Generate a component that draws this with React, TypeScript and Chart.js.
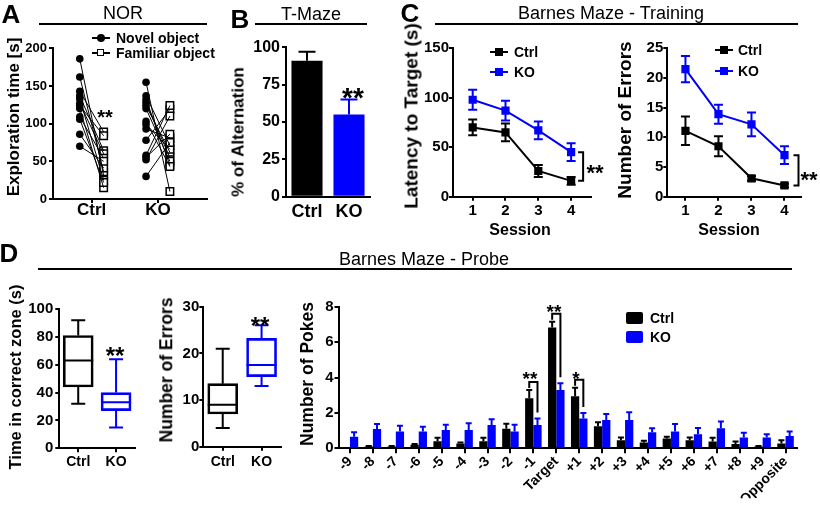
import React, { useEffect, useRef } from 'react';
import { Chart, registerables } from 'chart.js';
Chart.register(...registerables);

const FONT = "'Liberation Sans', Arial, Helvetica, sans-serif";
const BLUE = '#0000ff';
const W = 820;
const H = 505;
Chart.defaults.font.family = FONT;
Chart.defaults.color = '#000';

// ---------- Panel A: NOR ----------
const norGroups = ['Ctrl', 'KO'];
const ctrlNovel = [186, 162, 143, 137, 133, 127, 124, 120, 109, 106, 86, 70];
const ctrlFamiliar = [31, 36, 89, 64, 25, 60, 84, 15, 54, 22, 41, 50];
const koNovel = [155, 137, 132, 128, 124, 120, 103, 99, 93, 78, 58, 55, 52, 30];
const koFamiliar = [10, 71, 45, 55, 62, 50, 43, 66, 81, 119, 124, 86, 110, 75];

// ---------- Panel B: T-Maze ----------
const tmazeGroups = ['Ctrl', 'KO'];
const tmazeMean = [91, 55];
const tmazeSem = [6, 10];

// ---------- Panel C: Barnes maze training ----------
const sessions = [1, 2, 3, 4];
const latencyCtrl = [70, 65, 26, 16];
const latencyCtrlSem = [8, 9, 6, 4];
const latencyKo = [98, 87, 67, 45];
const latencyKoSem = [10, 10, 9, 9];
const errorsCtrl = [11.1, 8.5, 3.1, 1.9];
const errorsCtrlSem = [2.4, 1.7, 0.4, 0.3];
const errorsKo = [21.5, 13.9, 12.2, 7.0];
const errorsKoSem = [2.2, 1.6, 2.0, 1.5];

// ---------- Panel D: Barnes maze probe ----------
const probeGroups = ['Ctrl', 'KO'];
// [min, q1, median, q3, max]
const zoneCtrl = [32, 44, 63, 81, 92];
const zoneKo = [15, 27, 33, 40, 64];
const probeErrCtrl = [4, 7, 9, 13.5, 21];
const probeErrKo = [13, 15, 17.5, 23.2, 26];
const holes = ['-9', '-8', '-7', '-6', '-5', '-4', '-3', '-2', '-1', 'Target', '+1', '+2', '+3', '+4', '+5', '+6', '+7', '+8', '+9', 'Opposite'];
const pokesCtrl = [0, 0.1, 0.1, 0.2, 0.4, 0.27, 0.4, 1.1, 2.83, 6.83, 2.94, 1.24, 0.46, 0.33, 0.56, 0.46, 0.39, 0.24, 0.1, 0.27];
const pokesCtrlSem = [0, 0.03, 0.03, 0.05, 0.2, 0.06, 0.2, 0.28, 0.47, 0.32, 0.48, 0.23, 0.15, 0.09, 0.09, 0.15, 0.21, 0.15, 0.03, 0.19];
const pokesKo = [0.65, 1.09, 0.95, 0.95, 1.03, 1.03, 1.32, 0.95, 1.32, 3.3, 1.69, 1.6, 1.6, 0.9, 0.95, 0.8, 1.13, 0.61, 0.61, 0.69];
const pokesKoSem = [0.25, 0.28, 0.33, 0.27, 0.3, 0.38, 0.32, 0.38, 0.37, 0.38, 0.31, 0.34, 0.43, 0.23, 0.42, 0.35, 0.39, 0.27, 0.19, 0.26];
const sigHoles = ['-1', 'Target', '+1'];

// ---------- helpers ----------
type Area = { l: number; t: number; r: number; b: number };
const PAIR_OFFSET = 0.18;

const bf = (size: number) => ({ family: FONT, size, weight: 'bold' as const, lineHeight: 1 });

function baseOptions(area: Area, yW: number, xH: number) {
  return {
    responsive: false,
    animation: false as const,
    devicePixelRatio: 1,
    events: [] as any[],
    layout: { padding: { left: area.l - yW, top: area.t, right: W - area.r, bottom: H - area.b - xH } },
    plugins: { legend: { display: false }, tooltip: { enabled: false } },
  };
}

function yAxis(min: number, max: number, step: number, size: number, yW: number, pad: number) {
  return {
    min,
    max,
    ticks: { stepSize: step, font: bf(size), color: '#000', padding: pad },
    grid: { display: true, drawOnChartArea: false, drawTicks: true, tickLength: 4, color: '#000', lineWidth: 2 },
    border: { display: true, color: '#000', width: 2 },
    afterFit: (s: any) => { s.width = yW; },
  };
}

function xGrid(tick: boolean) {
  return tick
    ? { display: true, drawOnChartArea: false, drawTicks: true, tickLength: 4, color: '#000', lineWidth: 2, offset: false }
    : { display: false, drawTicks: false };
}

const errorBarPlugin = {
  id: 'errorBars',
  afterDatasetsDraw(chart: any) {
    const ctx = chart.ctx;
    chart.data.datasets.forEach((ds: any, i: number) => {
      if (!ds.errors) return;
      const meta = chart.getDatasetMeta(i);
      const ys = chart.scales[meta.yAxisID];
      ctx.save();
      ctx.lineWidth = 2;
      meta.data.forEach((el: any, j: number) => {
        const d = ds.data[j];
        const v = typeof d === 'number' ? d : d.y;
        const e = ds.errors[j];
        if (!e) return;
        ctx.strokeStyle = Array.isArray(ds.errColor) ? ds.errColor[j] : ds.errColor;
        const yTop = ys.getPixelForValue(v + e);
        const yBot = ds.errDir === 'both' ? ys.getPixelForValue(v - e) : ys.getPixelForValue(v);
        const hw = ds.capWidth / 2;
        ctx.beginPath();
        ctx.moveTo(el.x, yBot);
        ctx.lineTo(el.x, yTop);
        ctx.moveTo(el.x - hw, yTop);
        ctx.lineTo(el.x + hw, yTop);
        if (ds.errDir === 'both') {
          ctx.moveTo(el.x - hw, yBot);
          ctx.lineTo(el.x + hw, yBot);
        }
        ctx.stroke();
      });
      ctx.restore();
    });
  },
};

// ---------- configs ----------
function norConfig() {
  const area = { l: 53, t: 48.3, r: 207, b: 199 };
  const yW = 45, xH = 30;
  const groups = [[ctrlNovel, ctrlFamiliar], [koNovel, koFamiliar]];
  const datasets: any[] = [];
  groups.forEach(([nov, fam], g) => nov.forEach((v, i) => datasets.push({
    data: [{ x: g + 1 - PAIR_OFFSET, y: v }, { x: g + 1 + PAIR_OFFSET, y: fam[i] }],
    showLine: true, borderColor: '#000', borderWidth: 1, pointRadius: 0,
  })));
  datasets.push({
    data: groups.flatMap(([nov], g) => nov.map((v) => ({ x: g + 1 - PAIR_OFFSET, y: v }))),
    pointStyle: 'circle', pointRadius: 3.8, pointBackgroundColor: '#000', pointBorderColor: '#000', pointBorderWidth: 0,
  });
  datasets.push({
    data: groups.flatMap(([, fam], g) => fam.map((v) => ({ x: g + 1 + PAIR_OFFSET, y: v }))),
    pointStyle: 'rect', pointRadius: 5.3, pointBackgroundColor: '#fff', pointBorderColor: '#000', pointBorderWidth: 1.5,
  });
  return {
    type: 'scatter',
    data: { datasets },
    options: {
      ...baseOptions(area, yW, xH),
      scales: {
        x: {
          type: 'linear', min: 0.416, max: 2.74,
          afterBuildTicks: (s: any) => { s.ticks = norGroups.map((_, i) => ({ value: i + 1 })); },
          ticks: { callback: (_v: any, i: number) => norGroups[i], font: bf(17), color: '#000', padding: -1 },
          grid: xGrid(true),
          border: { display: true, color: '#000', width: 2 },
          afterFit: (s: any) => { s.height = xH; },
        },
        y: yAxis(0, 200, 50, 13, yW, 2),
      },
    },
  };
}

function tmazeConfig() {
  const area = { l: 286, t: 47.3, r: 370, b: 196.7 };
  const yW = 45, xH = 30;
  return {
    type: 'bar',
    data: {
      labels: tmazeGroups,
      datasets: [{
        data: tmazeMean, backgroundColor: ['#000', BLUE], barPercentage: 0.74, categoryPercentage: 1,
        errors: tmazeSem, errColor: ['#000', BLUE], errDir: 'up', capWidth: 17,
      }],
    },
    options: {
      ...baseOptions(area, yW, xH),
      scales: {
        x: {
          ticks: { font: bf(18), color: '#000', padding: 6 },
          grid: xGrid(false),
          border: { display: true, color: '#000', width: 2 },
          afterFit: (s: any) => { s.height = xH; },
        },
        y: yAxis(0, 100, 25, 16, yW, 2),
      },
    },
    plugins: [errorBarPlugin],
  };
}

function trainingConfig(area: Area, ctrl: number[], ctrlSem: number[], ko: number[], koSem: number[],
  yMax: number, yStep: number, xMin: number, xMax: number, bracketDx: number) {
  const yW = 45, xH = 40;
  const mk = (vals: number[], sem: number[], color: string) => ({
    data: sessions.map((s, i) => ({ x: s, y: vals[i] })),
    errors: sem, errColor: color, errDir: 'both', capWidth: 9,
    showLine: true, borderColor: color, borderWidth: 2,
    pointStyle: 'rect', pointRadius: 5.8, pointBackgroundColor: color, pointBorderColor: color, pointBorderWidth: 0,
  });
  const bracket = {
    id: 'bracket',
    afterDatasetsDraw(chart: any) {
      const ctx = chart.ctx;
      const last = sessions.length - 1;
      const x = chart.scales.x.getPixelForValue(sessions[last]) + bracketDx;
      const y1 = chart.scales.y.getPixelForValue(ko[last]);
      const y2 = chart.scales.y.getPixelForValue(ctrl[last]);
      ctx.save();
      ctx.strokeStyle = '#000';
      ctx.lineWidth = 2;
      ctx.beginPath();
      ctx.moveTo(x - 5, y1);
      ctx.lineTo(x, y1);
      ctx.lineTo(x, y2);
      ctx.lineTo(x - 5, y2);
      ctx.stroke();
      ctx.restore();
    },
  };
  return {
    type: 'scatter',
    data: { datasets: [mk(ctrl, ctrlSem, '#000'), mk(ko, koSem, BLUE)] },
    options: {
      ...baseOptions(area, yW, xH),
      scales: {
        x: {
          type: 'linear', min: xMin, max: xMax,
          afterBuildTicks: (s: any) => { s.ticks = sessions.map((v) => ({ value: v })); },
          ticks: { font: bf(15), color: '#000', padding: 3 },
          grid: xGrid(true),
          border: { display: true, color: '#000', width: 2 },
          afterFit: (s: any) => { s.height = xH; },
        },
        y: yAxis(0, yMax, yStep, 15, yW, 0),
      },
    },
    plugins: [errorBarPlugin, bracket],
  };
}

function boxConfig(area: Area, stats: number[][], yMax: number, yStep: number, pad: number, xPad: number) {
  const yW = 40, xH = 30;
  const colors = ['#000', BLUE];
  const boxPlugin = {
    id: 'boxWhiskers',
    afterDatasetsDraw(chart: any) {
      const ctx = chart.ctx;
      const ys = chart.scales.y;
      const meta = chart.getDatasetMeta(0);
      ctx.save();
      ctx.lineWidth = 2;
      meta.data.forEach((el: any, i: number) => {
        const [mn, q1, md, q3, mx] = stats[i];
        const x = el.x;
        const hw = el.width / 2;
        ctx.strokeStyle = colors[i];
        ctx.beginPath();
        ctx.moveTo(x - hw, ys.getPixelForValue(md));
        ctx.lineTo(x + hw, ys.getPixelForValue(md));
        ctx.moveTo(x, ys.getPixelForValue(q3));
        ctx.lineTo(x, ys.getPixelForValue(mx));
        ctx.moveTo(x - 7, ys.getPixelForValue(mx));
        ctx.lineTo(x + 7, ys.getPixelForValue(mx));
        ctx.moveTo(x, ys.getPixelForValue(q1));
        ctx.lineTo(x, ys.getPixelForValue(mn));
        ctx.moveTo(x - 7, ys.getPixelForValue(mn));
        ctx.lineTo(x + 7, ys.getPixelForValue(mn));
        ctx.stroke();
      });
      ctx.restore();
    },
  };
  return {
    type: 'bar',
    data: {
      labels: probeGroups,
      datasets: [{
        data: stats.map((s) => [s[1], s[3]]),
        backgroundColor: 'rgba(0,0,0,0)', borderColor: colors, borderWidth: 2, borderSkipped: false, barThickness: 30,
      }],
    },
    options: {
      ...baseOptions(area, yW, xH),
      scales: {
        x: {
          ticks: { font: bf(14), color: '#000', padding: xPad },
          grid: xGrid(true),
          border: { display: true, color: '#000', width: 2 },
          afterFit: (s: any) => { s.height = xH; },
        },
        y: yAxis(0, yMax, yStep, 15, yW, pad),
      },
    },
    plugins: [boxPlugin],
  };
}

function pokesConfig() {
  const area = { l: 338.5, t: 306.7, r: 797, b: 448.3 };
  const yW = 30, xH = 50;
  const bracket = {
    id: 'sigBrackets',
    afterDatasetsDraw(chart: any) {
      const ctx = chart.ctx;
      const ys = chart.scales.y;
      const m0 = chart.getDatasetMeta(0);
      const m1 = chart.getDatasetMeta(1);
      ctx.save();
      ctx.strokeStyle = '#000';
      ctx.lineWidth = 2;
      sigHoles.forEach((h) => {
        const i = holes.indexOf(h);
        const yC = ys.getPixelForValue(pokesCtrl[i] + pokesCtrlSem[i]);
        const yK = ys.getPixelForValue(pokesKo[i] + pokesKoSem[i]);
        const top = yC - 8;
        ctx.beginPath();
        ctx.moveTo(m0.data[i].x, yC - 2);
        ctx.lineTo(m0.data[i].x, top);
        ctx.lineTo(m1.data[i].x, top);
        ctx.lineTo(m1.data[i].x, yK - 6);
        ctx.stroke();
      });
      ctx.restore();
    },
  };
  return {
    type: 'bar',
    data: {
      labels: holes,
      datasets: [
        { data: pokesCtrl, backgroundColor: '#000', errors: pokesCtrlSem, errColor: '#000', errDir: 'up', capWidth: 6, categoryPercentage: 0.72, barPercentage: 1 },
        { data: pokesKo, backgroundColor: BLUE, errors: pokesKoSem, errColor: BLUE, errDir: 'up', capWidth: 6, categoryPercentage: 0.72, barPercentage: 1 },
      ],
    },
    options: {
      ...baseOptions(area, yW, xH),
      scales: {
        x: {
          ticks: { font: bf(14), color: '#000', padding: 1, autoSkip: false, minRotation: 45, maxRotation: 45 },
          grid: { ...xGrid(true), tickLength: 5 },
          border: { display: true, color: '#000', width: 2 },
          afterFit: (s: any) => { s.height = xH; },
        },
        y: yAxis(0, 8, 2, 15, yW, 1),
      },
    },
    plugins: [errorBarPlugin, bracket],
  };
}

// ---------- React ----------
function ChartCanvas({ make }: { make: () => any }) {
  const ref = useRef<HTMLCanvasElement>(null);
  useEffect(() => {
    const chart = new Chart(ref.current as HTMLCanvasElement, make());
    return () => chart.destroy();
  }, []);
  return <canvas ref={ref} width={W} height={H} style={{ position: 'absolute', left: 0, top: 0, width: W, height: H }} />;
}

function Txt({ x, y, s, bold = true, rot = false, align = 'center', color = '#000', children }:
  { x: number; y: number; s: number; bold?: boolean; rot?: boolean; align?: string; color?: string; children: any }) {
  const transform = align === 'center'
    ? `translate(-50%,-50%)${rot ? ' rotate(-90deg)' : ''}`
    : align === 'left' ? 'translate(0,-50%)' : 'translate(-100%,-50%)';
  return (
    <div style={{
      position: 'absolute', left: x, top: y, fontSize: s, fontWeight: bold ? 'bold' : 'normal',
      lineHeight: `${s}px`, whiteSpace: 'nowrap', transform, color, fontFamily: FONT,
    }}>{children}</div>
  );
}

function Stars({ x, y, s, text }: { x: number; y: number; s: number; text: string }) {
  return <Txt x={x} y={y + 0.23 * s} s={s}>{text}</Txt>;
}

function HLine({ x1, x2, y }: { x1: number; x2: number; y: number }) {
  return <div style={{ position: 'absolute', left: x1, top: y - 1, width: x2 - x1, height: 2, background: '#000' }} />;
}

function LegendLine({ x1, x2, y, color, shape }: { x1: number; x2: number; y: number; color: string; shape: string }) {
  const cx = (x1 + x2) / 2;
  return (
    <>
      <div style={{ position: 'absolute', left: x1, top: y - 1, width: x2 - x1, height: 2, background: color }} />
      {shape === 'circle' && <div style={{ position: 'absolute', left: cx - 4, top: y - 4, width: 8, height: 8, borderRadius: '50%', background: color }} />}
      {shape === 'open' && <div style={{ position: 'absolute', left: cx - 4, top: y - 4, width: 5, height: 5, border: `1.5px solid ${color}`, background: '#fff' }} />}
      {shape === 'square' && <div style={{ position: 'absolute', left: cx - 4, top: y - 4, width: 8, height: 8, background: color }} />}
    </>
  );
}

export default function App() {
  return (
    <div style={{ position: 'fixed', left: 0, top: 0, width: W, height: H, background: '#fff', overflow: 'hidden', fontFamily: FONT }}>
      <ChartCanvas make={norConfig} />
      <ChartCanvas make={tmazeConfig} />
      <ChartCanvas make={() => trainingConfig({ l: 453, t: 48.3, r: 590.8, b: 196.7 }, latencyCtrl, latencyCtrlSem, latencyKo, latencyKoSem, 150, 50, 0.4, 4.6, 12)} />
      <ChartCanvas make={() => trainingConfig({ l: 667.3, t: 48.3, r: 801, b: 196.7 }, errorsCtrl, errorsCtrlSem, errorsKo, errorsKoSem, 25, 5, 0.45, 4.5, 14)} />
      <ChartCanvas make={() => boxConfig({ l: 59.3, t: 309, r: 135, b: 448.3 }, [zoneCtrl, zoneKo], 100, 20, 2, 2.5)} />
      <ChartCanvas make={() => boxConfig({ l: 203.3, t: 306.7, r: 281, b: 446.7 }, [probeErrCtrl, probeErrKo], 30, 10, 0, 4)} />
      <ChartCanvas make={pokesConfig} />

      {/* panel letters */}
      <Txt x={11} y={14} s={26}>A</Txt>
      <Txt x={240} y={18.5} s={26}>B</Txt>
      <Txt x={410} y={13} s={26}>C</Txt>
      <Txt x={9} y={253} s={26}>D</Txt>

      {/* titles */}
      <Txt x={123} y={13} s={18} bold={false}>NOR</Txt>
      <HLine x1={39} x2={207} y={24} />
      <Txt x={311} y={14} s={18} bold={false}>T-Maze</Txt>
      <HLine x1={255} x2={367} y={24} />
      <Txt x={611} y={13} s={18} bold={false}>Barnes Maze - Training</Txt>
      <HLine x1={435} x2={798} y={24} />
      <Txt x={424} y={258.5} s={18} bold={false}>Barnes Maze - Probe</Txt>
      <HLine x1={38} x2={792} y={269} />

      {/* axis titles */}
      <Txt x={13} y={117} s={17} rot>Exploration time [s]</Txt>
      <Txt x={238} y={132} s={17} rot>% of Alternation</Txt>
      <Txt x={411} y={116} s={19} rot>Latency to Target (s)</Txt>
      <Txt x={624} y={120} s={19} rot>Number of Errors</Txt>
      <Txt x={520} y={230} s={16}>Session</Txt>
      <Txt x={729} y={230} s={16}>Session</Txt>
      <Txt x={15} y={377} s={16.5} rot>Time in correct zone (s)</Txt>
      <Txt x={167} y={370} s={17.5} rot>Number of Errors</Txt>
      <Txt x={308} y={374} s={17.5} rot>Number of Pokes</Txt>

      {/* significance */}
      <Stars x={105} y={112} s={20} text="**" />
      <Stars x={353} y={92} s={28} text="**" />
      <Stars x={595} y={168} s={22} text="**" />
      <Stars x={809} y={175} s={22} text="**" />
      <Stars x={115} y={350} s={24} text="**" />
      <Stars x={260} y={320} s={24} text="**" />
      <Stars x={530} y={374} s={19} text="**" />
      <Stars x={554} y={306.7} s={19} text="**" />
      <Stars x={576} y={374} s={19} text="*" />

      {/* legends */}
      <LegendLine x1={92} x2={110} y={38} color="#000" shape="circle" />
      <Txt x={116} y={38} s={14} align="left">Novel object</Txt>
      <LegendLine x1={92} x2={110} y={53} color="#000" shape="open" />
      <Txt x={116} y={53} s={14} align="left">Familiar object</Txt>

      <LegendLine x1={490} x2={508} y={51.7} color="#000" shape="square" />
      <Txt x={514} y={51.7} s={14} align="left">Ctrl</Txt>
      <LegendLine x1={490} x2={508} y={71.7} color={BLUE} shape="square" />
      <Txt x={514} y={71.7} s={14} align="left">KO</Txt>

      <LegendLine x1={715} x2={733} y={49.5} color="#000" shape="square" />
      <Txt x={738} y={49.5} s={14} align="left">Ctrl</Txt>
      <LegendLine x1={715} x2={733} y={70.5} color={BLUE} shape="square" />
      <Txt x={738} y={70.5} s={14} align="left">KO</Txt>

      <div style={{ position: 'absolute', left: 626, top: 311.7, width: 17, height: 12, background: '#000', borderRadius: 2 }} />
      <Txt x={650} y={317.5} s={14} align="left">Ctrl</Txt>
      <div style={{ position: 'absolute', left: 626, top: 330.7, width: 17, height: 12, background: BLUE, borderRadius: 2 }} />
      <Txt x={650} y={336.7} s={14} align="left">KO</Txt>
    </div>
  );
}
